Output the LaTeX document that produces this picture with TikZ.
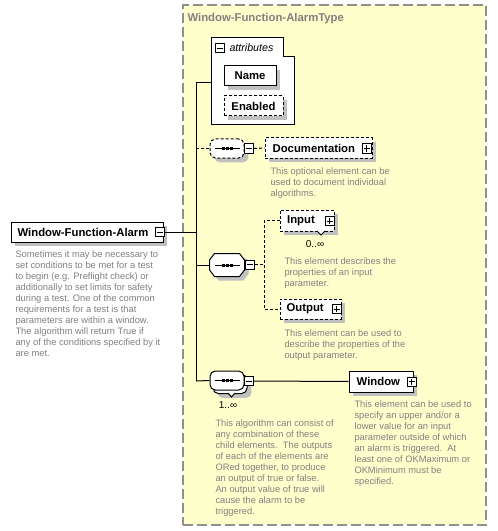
\documentclass[tikz,border=0pt]{standalone}
\usepackage{fontspec}
\setmainfont{Liberation Sans}
\usetikzlibrary{calc,shadows}

\definecolor{bgyellow}{HTML}{FFFFCC}
\definecolor{descgray}{HTML}{808080}
\definecolor{shadowgray}{HTML}{C0C0C0}
\definecolor{framegray}{HTML}{909090}

\newcommand\mkminus[2]{\node[pmbox] (#1) at #2 {};
  \draw ($(#1.west)+(2,0)$) -- ($(#1.east)+(-2,0)$);}
\newcommand\mkplus[2]{\node[pmbox] (#1) at #2 {};
  \draw ($(#1.west)+(2,0)$) -- ($(#1.east)+(-2,0)$);
  \draw ($(#1.north)+(0,2)$) -- ($(#1.south)+(0,-2)$);}
\newcommand\mkdots[1]{%
  \draw ($(#1.west)+(5,0)$) -- ($(#1.east)+(-5,0)$);
  \fill ($(#1.center)+(-5.5,-1.5)$) rectangle ++(3,3);
  \fill ($(#1.center)+(-1.5,-1.5)$) rectangle ++(3,3);
  \fill ($(#1.center)+(2.5,-1.5)$) rectangle ++(3,3);}

\begin{document}
\begin{tikzpicture}[x=0.75pt,y=-0.75pt,line width=0.75pt,
  shad/.style={drop shadow={shadow xshift=3.3pt,shadow yshift=-3.3pt,fill=shadowgray,opacity=1}},
  elem/.style={draw=black,fill=white,inner sep=0pt,shad,
     font=\bfseries\fontsize{8.5}{10}\selectfont},
  optdash/.style={dash pattern=on 2.25pt off 1.5pt},
  pmbox/.style={draw=black,fill=white,minimum size=6.75pt,inner sep=0pt},
  seqshape/.style={draw=black,fill=white,rounded corners=4pt,inner sep=0pt,
     minimum width=25.5pt,minimum height=14.25pt},
  ghost/.style={inner sep=0pt,minimum width=25.5pt,minimum height=16.5pt},
  desc/.style={anchor=north west,inner sep=0pt,align=left,text=descgray,
     font=\fontsize{7}{8.25}\selectfont},
  mult/.style={inner sep=0pt,font=\fontsize{7.5}{8.25}\selectfont},
  typeframe/.style={draw=framegray,line width=1.2pt,dash pattern=on 7.5pt off 3pt,
     fill=bgyellow,inner sep=0pt,minimum width=227.25pt,minimum height=390pt}
]
\useasboundingbox (0,0) rectangle (497,531);
\fill[white] (0,0) rectangle (497,531);

% type frame
\node[typeframe] (typebox) at (334.5,265) {};
\node[anchor=west,inner sep=0pt,text=descgray,font=\bfseries\fontsize{8.5}{10}\selectfont]
  (typetitle) at (187,19) {Window-Function-AlarmType};

% attributes group
\draw[fill=white] (211,38) -- (283,38) -- (283,57) -- (294,57) -- (294,125) -- (211,125) -- cycle;
\mkminus{attrm}{(219.5,48.5)}
\node[anchor=west,inner sep=0pt,font=\itshape\fontsize{8}{9.6}\selectfont] (attrlbl) at (229,48) {attributes};
\node[elem,minimum width=39pt,minimum height=15pt] (name) at (250,76) {Name};
\node[elem,optdash,minimum width=44.25pt,minimum height=15pt] (enabled) at (253.5,106) {Enabled};
\coordinate (attrleft) at (211,83);

% main element
\node[elem,minimum width=114pt,minimum height=15pt] (mainel) at (87,232) {Window-Function-Alarm\kern6pt};
\mkminus{mainm}{(159.5,232)}
\node[desc] (maindesc) at (15,250) {Sometimes it may be necessary to\\
set conditions to be met for a test\\
to begin (e.g. Preflight check) or\\
additionally to set limits for safety\\
during a test. One of the common\\
requirements for a test is that\\
parameters are within a window.\\
The algorithm will return True if\\
any of the conditions specified by it\\
are met.};

% trunk
\coordinate (trunk) at (196,83);
\coordinate (trunkbot) at (196,381);
\draw (trunk) -- (trunkbot);
\draw (trunk) -- (attrleft);
\draw (mainm.east) -- (mainm.east -| trunk);

% optional sequence with Documentation
\node[seqshape,optdash,shad] (seq1) at (227,148.5) {};
\mkdots{seq1}
\mkminus{seq1m}{(249,148.5)}
\node[elem,optdash,minimum width=80.25pt,minimum height=15pt] (doc) at (318.5,148) {Documentation\kern7pt};
\mkplus{docp}{(366.5,148.5)}
\node[desc] (docdesc) at (270,167) {This optional element can be\\
used to document individual\\
algorithms.};
\draw[optdash] (trunk |- seq1.west) -- (seq1.west);
\draw[optdash] (seq1m.east) -- (doc.west);

% choice with Input / Output
\node[ghost] (choice) at (227,265) {};
\fill[shadowgray] ($(choice.west)+(4,-5)$) -- ($(choice.north west)+(9,4)$) -- ($(choice.north east)+(-1,4)$)
  -- ($(choice.east)+(4,-5)$) -- ($(choice.east)+(4,9)$) -- ($(choice.south east)+(-1,4)$)
  -- ($(choice.south west)+(9,4)$) -- ($(choice.west)+(4,9)$) -- cycle;
\draw[fill=white] ($(choice.west)+(0,-5)$) -- ($(choice.north west)+(5,0)$) -- ($(choice.north east)+(-5,0)$)
  -- ($(choice.east)+(0,-5)$) -- ($(choice.east)+(0,5)$) -- ($(choice.south east)+(-5,0)$)
  -- ($(choice.south west)+(5,0)$) -- ($(choice.west)+(0,5)$) -- cycle;
\mkdots{choice}
\mkminus{choicem}{(249.5,264.5)}
\draw (trunk |- choice.west) -- (choice.west);
\coordinate (itrunk) at (264,220);

\node[elem,optdash,minimum width=40.5pt,minimum height=15.75pt] (input) at (307,220.5) {Input\kern9pt};
\mkplus{inputp}{(329.5,221)}
\draw[fill=white] (317,231) -- (321,235) -- (325,231);
\node[mult] (inputmult) at (315,244) {0..∞};
\node[desc] (inputdesc) at (284,257) {This element describes the\\
properties of an input\\
parameter.};

\node[elem,optdash,minimum width=45.75pt,minimum height=15pt] (output) at (310.5,309) {Output\kern8pt};
\mkplus{outputp}{(336.5,309)}
\node[desc] (outputdesc) at (284,329) {This element can be used to\\
describe the properties of the\\
output parameter.};

\draw[optdash] (choicem.east) -- (choicem.east -| itrunk);
\draw[optdash] (input.west) -- (input.west -| itrunk) -- (output.west -| itrunk) -- (output.west);

% bottom sequence with Window
\node[seqshape,shad] (seq2back) at (230,384) {};
\draw[fill=white] (228,393) -- (231.5,397) -- (235,393);
\node[seqshape] (seq2) at (227,380.5) {};
\mkdots{seq2}
\mkminus{seq2m}{(249,381)}
\node[mult] (seq2mult) at (228,405) {1..∞};
\node[desc] (seq2desc) at (215,419) {This algorithm can consist of\\
any combination of these\\
child elements.\ \ The outputs\\
of each of the elements are\\
ORed together, to produce\\
an output of true or false.\\
An output value of true will\\
cause the alarm to be\\
triggered.};
\draw (trunkbot) -- (seq2.west);

\node[elem,minimum width=48pt,minimum height=15.75pt] (window) at (381,381.5) {Window\kern4pt};
\mkplus{windowp}{(411.5,381.5)}
\node[desc] (windowdesc) at (354,400) {This element can be used to\\
specify an upper and/or a\\
lower value for an input\\
parameter outside of which\\
an alarm is triggered.\ \ At\\
least one of OKMaximum or\\
OKMinimum must be\\
specified.};
\draw (seq2m.east) -- (window.west);
\end{tikzpicture}
\end{document}
